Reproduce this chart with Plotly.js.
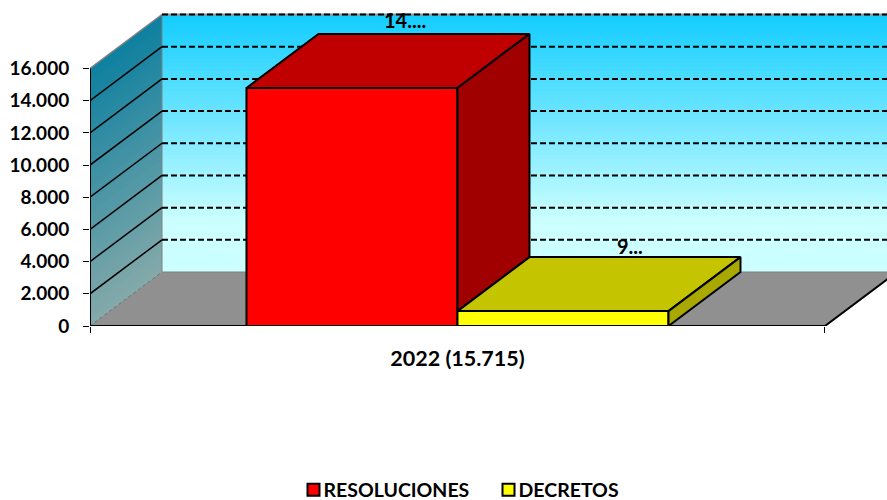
<!DOCTYPE html>
<html><head><meta charset="utf-8">
<script src="https://cdn.plot.ly/plotly-3.0.1.min.js"></script>
<style>html,body{margin:0;padding:0;background:#fff}#c{width:887px;height:500px}</style>
</head><body><div id="c"></div>
<script>
const categories = ['2022 (15.715)'];
const resoluciones = [14790];
const decretos = [925];
const resolucionesLabel = ['14....'];
const decretosLabel = ['9...'];
const axisTicks = [0,2000,4000,6000,8000,10000,12000,14000,16000];

const FONT = 'Lato, Carlito, sans-serif';
const xMin=-0.5, xMax=0.5, xView=0.5844;
const yMax=16000, yView=20194;
const dx=72/735, dv=3355;      // oblique depth of the pseudo-3D box
const barW=0.2871;

function lerp(a,b,t){return a.map((v,i)=>Math.round(v+(b[i]-v)*t));}
function rgb(c){return 'rgb('+c.join(',')+')';}
function poly(p){return 'M'+p.map(q=>q[0]+','+q[1]).join('L')+'Z';}
const shapes=[];
function addPoly(p,fill){shapes.push({type:'path',xref:'x',yref:'y',layer:'below',path:poly(p),fillcolor:fill,line:{width:0}});}
function addLine(a,b,color,w,dash){shapes.push({type:'line',xref:'x',yref:'y',layer:'below',x0:a[0],y0:a[1],x1:b[0],y1:b[1],line:{color:color,width:w,dash:dash||'solid'}});}

// walls: vertical colour ramp
const wallTop=[20,205,255], wallBot=[204,255,255], sideTop=[14,128,160], sideBot=[134,170,170];
const N=64;
for(let i=0;i<N;i++){
  const t=i/N, v=yMax*(1-t), vEnd=0;
  const tc=Math.min(1,t/0.8);
  addPoly([[xMin+dx,v+dv],[xView+1,v+dv],[xView+1,vEnd+dv],[xMin+dx,vEnd+dv]],rgb(lerp(wallTop,wallBot,tc)));
  addPoly([[xMin,v],[xMin+dx,v+dv],[xMin+dx,vEnd+dv],[xMin,vEnd]],rgb(lerp(sideTop,sideBot,t)));
}
// floor
addPoly([[xMin,0],[xMax,0],[xMax+dx,dv],[xMin+dx,dv]],'#909090');
addLine([xMin+dx,dv],[xView+1,dv],'#808080',1);
addLine([xMin+dx,dv],[xMin+dx,yMax+dv],'#808080',1);
addLine([xMin,yMax],[xMin+dx,yMax+dv],'#808080',1.5);
addLine([xMin,0],[xMin+dx,dv],'#707070',1,'dot');
addLine([xMin+dx,yMax+dv],[xView+1,yMax+dv],'#909090',2);
// gridlines
axisTicks.filter(v=>v>0).forEach(v=>{
  addLine([xMin+dx,v+dv],[xView+1,v+dv],'#000',2,'6px,3px');
  if(v<yMax) addLine([xMin,v],[xMin+dx,v+dv],'#000',1.5);
});
addLine([xMax,0],[xMax+dx,dv],'#000',2);

function face(p,fill){
  return {type:'scatter',mode:'lines',x:p.map(q=>q[0]).concat(p[0][0]),y:p.map(q=>q[1]).concat(p[0][1]),
    fill:'toself',fillcolor:fill,line:{color:'#000',width:2},showlegend:false,hoverinfo:'skip'};
}
const r=resoluciones[0], d=decretos[0];
const rL=-barW, rR=0, dL=0, dR=barW;
const traces=[
  {type:'bar',name:'RESOLUCIONES',x:[0],y:resoluciones,width:[barW],offset:[-barW],
    marker:{color:'#FF0000',line:{color:'#000',width:2}},hoverinfo:'y'},
  {type:'bar',name:'DECRETOS',x:[0],y:decretos,width:[barW],offset:[0],
    marker:{color:'#FFFF00',line:{color:'#000',width:2}},hoverinfo:'y'},
  face([[rL,r],[rR,r],[rR+dx,r+dv],[rL+dx,r+dv]],'#C00000'),
  face([[rR,r],[rR+dx,r+dv],[rR+dx,d+dv],[rR,d]],'#A00000'),
  face([[dL,d],[dR,d],[dR+dx,d+dv],[dL+dx,d+dv]],'#C4C400'),
  face([[dR,d],[dR+dx,d+dv],[dR+dx,dv],[dR,0]],'#A8A800'),
  {type:'scatter',mode:'lines',x:[xMin,xMin],y:[0,yMax],line:{color:'#000',width:2},showlegend:false,hoverinfo:'skip'},
  {type:'scatter',mode:'lines',x:[xMin,xMax],y:[0,0],line:{color:'#000',width:2},showlegend:false,hoverinfo:'skip',cliponaxis:false}
];
const tickF={family:FONT,size:19,color:'#000',weight:700};
const catF={family:FONT,size:21.5,color:'#000',weight:700};
const lblF={family:FONT,size:20,color:'#000',weight:700};
const legF={family:FONT,size:19.5,color:'#000',weight:700};
const annotations=[
  {x:(rL+rR)/2+dx*0.73,y:r+dv,text:resolucionesLabel[0],showarrow:false,xref:'x',yref:'y',yanchor:'bottom',font:lblF},
  {x:(dL+dR)/2+dx*0.93,y:d+dv,yshift:-3,text:decretosLabel[0],showarrow:false,xref:'x',yref:'y',yanchor:'bottom',font:lblF}
];
const layout={
  width:887,height:500,margin:{l:90,r:0,t:1,b:40},
  paper_bgcolor:'#fff',plot_bgcolor:'#fff',separators:',.',showlegend:true,
  xaxis:{type:'linear',range:[xMin,xView],tickmode:'array',tickvals:[0],ticktext:categories,ticks:'',
    showgrid:false,zeroline:false,showline:false,tickfont:catF,ticklabelstandoff:17,fixedrange:true,
    minor:{tickmode:'array',tickvals:[xMin,xMax],ticks:'outside',ticklen:6,tickwidth:1,tickcolor:'#000',showgrid:false}},
  yaxis:{domain:[134/459,1],range:[0,yView],tickmode:'array',tickvals:axisTicks,tickformat:',d',ticks:'outside',ticklen:6,tickwidth:1,
    tickcolor:'#000',showgrid:false,zeroline:false,showline:false,tickfont:tickF,ticklabelstandoff:10,fixedrange:true},
  barmode:'overlay',shapes:shapes,annotations:annotations,
  legend:{orientation:'h',x:0.5,xanchor:'center',y:-5/459,yanchor:'middle',font:legF,bgcolor:'rgba(0,0,0,0)',
    traceorder:'normal',entrywidth:150,entrywidthmode:'pixels'}
};
Plotly.newPlot('c',traces,layout,{displayModeBar:false,staticPlot:true}).then(gd=>{
  // tighten the swatch/text gap and seat the legend at the chart's foot
  gd.querySelectorAll('.legend .legendtext').forEach(t=>{
    t.setAttribute('x',parseFloat(t.getAttribute('x'))-10);
  });
  const leg=gd.querySelector('.legend');
  const m=/translate\(([-\d.]+)[ ,]+([-\d.]+)\)/.exec(leg.getAttribute('transform'));
  if(m) leg.setAttribute('transform','translate('+m[1]+','+(parseFloat(m[2])+25)+')');
});
</script></body></html>
